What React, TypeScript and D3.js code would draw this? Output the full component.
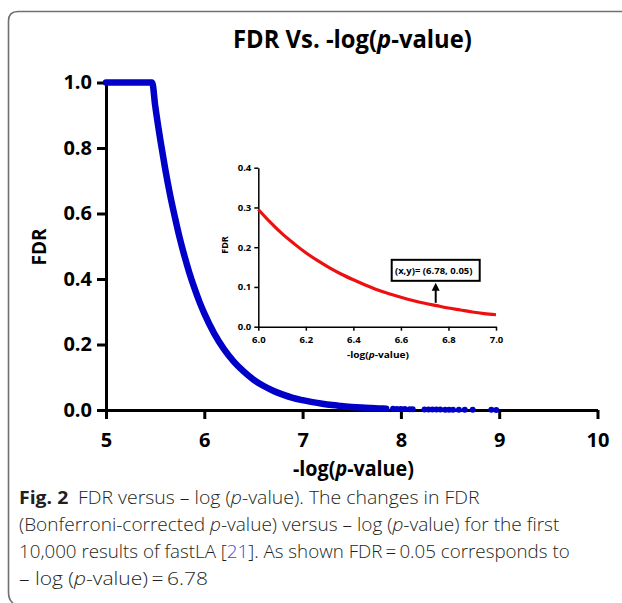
import React, { useEffect, useRef } from "react";
import * as d3 from "d3";

// main curve (-log p, FDR)
const mainX = [5.0, 5.1, 5.2, 5.3, 5.4, 5.47, 5.5, 5.55, 5.6, 5.65, 5.7, 5.75, 5.8, 5.85, 5.9, 5.95, 6.0, 6.1, 6.2, 6.3, 6.4, 6.5, 6.6, 6.7, 6.8, 6.9, 7.0, 7.1, 7.2, 7.3, 7.4, 7.5, 7.6, 7.7, 7.8, 7.85];
const mainFdr = [1, 1, 1, 1, 1, 1, 0.93, 0.83, 0.74, 0.66, 0.59, 0.525, 0.468, 0.417, 0.372, 0.331, 0.295, 0.234, 0.186, 0.148, 0.118, 0.093, 0.074, 0.059, 0.047, 0.037, 0.03, 0.024, 0.019, 0.015, 0.012, 0.0093, 0.0074, 0.0059, 0.0047, 0.0042];

// scattered points in the tail
const tailX = [7.92, 7.96, 8.0, 8.04, 8.09, 8.12, 8.24, 8.28, 8.32, 8.36, 8.4, 8.45, 8.49, 8.53, 8.59, 8.65, 8.73, 8.92, 8.97];
const tailFdr = [0.0037, 0.0034, 0.0031, 0.0029, 0.0026, 0.0024, 0.0018, 0.0016, 0.0015, 0.0014, 0.0012, 0.0011, 0.001, 0.0009, 0.0008, 0.0007, 0.0006, 0.0004, 0.0003];

// inset zoom 6..7
const insetX = [6.0, 6.05, 6.1, 6.15, 6.2, 6.25, 6.3, 6.35, 6.4, 6.45, 6.5, 6.55, 6.6, 6.65, 6.7, 6.75, 6.8, 6.85, 6.9, 6.95, 7.0];
const insetFdr = [0.295, 0.263, 0.234, 0.209, 0.186, 0.166, 0.148, 0.132, 0.118, 0.105, 0.093, 0.083, 0.074, 0.066, 0.059, 0.053, 0.047, 0.042, 0.037, 0.033, 0.03];

const mainXTicks = [5, 6, 7, 8, 9, 10];
const mainYTicks = [0, 0.2, 0.4, 0.6, 0.8, 1.0];
const insetXTicks = [6.0, 6.2, 6.4, 6.6, 6.8, 7.0];
const insetYTicks = [0, 0.1, 0.2, 0.3, 0.4];

const annotX = 6.78;
const annotY = 0.05;

const W = 622;
const H = 603;
const FONT = "'Open Sans', sans-serif";
const BLUE = "#0000c8";
const RED = "#ee1010";

const App = () => {
  const svgRef = useRef<SVGSVGElement>(null);

  useEffect(() => {
    const svg = d3.select(svgRef.current);
    svg.selectAll("*").remove();

    // squeeze a text horizontally so it spans `width` px starting at x
    const fitText = (t, x, y, width) => {
      const len = t.node().getComputedTextLength() || width;
      t.attr("transform", `translate(${x},${y}) scale(${width / len},1)`);
    };

    // frame
    svg.append("path")
      .attr("d", `M${W},11.5 H18 Q8.5,11.5 8.5,21 V592 Q8.5,600 13,603`)
      .attr("fill", "none")
      .attr("stroke", "#707070")
      .attr("stroke-width", 1.6);

    // title
    const title = svg.append("text")
      .style("font-family", FONT)
      .style("font-weight", 700)
      .style("font-size", "25px");
    title.append("tspan").text("FDR Vs. -log(");
    title.append("tspan").style("font-style", "italic").text("p");
    title.append("tspan").text("-value)");
    fitText(title, 233, 48, 239);

    // main chart
    const x = d3.scaleLinear().domain([5, 10]).range([106, 597.5]);
    const y = d3.scaleLinear().domain([0, 1]).range([410, 82.5]);

    const styleAxis = (g, size, width) => {
      g.select(".domain").attr("stroke", "#000").attr("stroke-width", width);
      g.selectAll(".tick line").attr("stroke", "#000").attr("stroke-width", width);
      g.selectAll(".tick text")
        .attr("fill", "#000")
        .style("font-family", FONT)
        .style("font-weight", 700)
        .style("font-size", size);
    };

    svg.append("g")
      .attr("transform", `translate(0,${y(0)})`)
      .call(d3.axisBottom(x).tickValues(mainXTicks).tickFormat(d3.format("d")).tickSize(9).tickSizeOuter(0).tickPadding(14))
      .call(g => styleAxis(g, "20px", 3));

    svg.append("g")
      .attr("transform", `translate(${x(5)},0)`)
      .call(d3.axisLeft(y).tickValues(mainYTicks).tickFormat(d3.format(".1f")).tickSize(9).tickSizeOuter(0).tickPadding(5))
      .call(g => styleAxis(g, "20px", 3));

    const line = d3.line<number>()
      .x((_, i) => x(mainX[i]))
      .y(d => y(d))
      .curve(d3.curveMonotoneX);

    svg.append("path")
      .datum(mainFdr)
      .attr("fill", "none")
      .attr("stroke", BLUE)
      .attr("stroke-width", 6.5)
      .attr("stroke-linejoin", "round")
      .attr("stroke-linecap", "round")
      .attr("d", line);

    svg.append("g")
      .selectAll("circle")
      .data(tailFdr)
      .join("circle")
      .attr("cx", (_, i) => x(tailX[i]))
      .attr("cy", d => y(d))
      .attr("r", 3)
      .attr("fill", BLUE);

    // axis titles
    const xTitle = svg.append("text")
      .style("font-family", FONT)
      .style("font-weight", 700)
      .style("font-size", "21px");
    xTitle.append("tspan").text("-log(");
    xTitle.append("tspan").style("font-style", "italic").text("p");
    xTitle.append("tspan").text("-value)");
    fitText(xTitle, 293, 476, 121);

    svg.append("text")
      .attr("transform", `translate(46,247) rotate(-90)`)
      .attr("text-anchor", "middle")
      .style("font-family", FONT)
      .style("font-weight", 700)
      .style("font-size", "19px")
      .text("FDR");

    // inset
    const ix = d3.scaleLinear().domain([6, 7]).range([258.3, 496]);
    const iy = d3.scaleLinear().domain([0, 0.4]).range([326.7, 167.7]);

    svg.append("g")
      .attr("transform", `translate(0,${iy(0)})`)
      .call(d3.axisBottom(ix).tickValues(insetXTicks).tickFormat(d3.format(".1f")).tickSize(4).tickSizeOuter(0).tickPadding(6))
      .call(g => styleAxis(g, "9.5px", 1.5));

    svg.append("g")
      .attr("transform", `translate(${ix(6)},0)`)
      .call(d3.axisLeft(iy).tickValues(insetYTicks).tickFormat(d3.format(".1f")).tickSize(4).tickSizeOuter(0).tickPadding(3))
      .call(g => styleAxis(g, "9.5px", 1.5));

    const iline = d3.line<number>()
      .x((_, i) => ix(insetX[i]))
      .y(d => iy(d))
      .curve(d3.curveMonotoneX);

    svg.append("path")
      .datum(insetFdr)
      .attr("fill", "none")
      .attr("stroke", RED)
      .attr("stroke-width", 3.2)
      .attr("d", iline);

    const ixTitle = svg.append("text")
      .style("font-family", FONT)
      .style("font-weight", 700)
      .style("font-size", "9px");
    ixTitle.append("tspan").text("-log(");
    ixTitle.append("tspan").style("font-style", "italic").text("p");
    ixTitle.append("tspan").text("-value)");
    fitText(ixTitle, 347, 358, 62);

    svg.append("text")
      .attr("transform", `translate(228,245) rotate(-90)`)
      .attr("text-anchor", "middle")
      .style("font-family", FONT)
      .style("font-weight", 700)
      .style("font-size", "9px")
      .text("FDR");

    // annotation box + arrow
    const ax = ix(annotX) - 8;
    const boxTop = iy(annotY) - 47;
    svg.append("rect")
      .attr("x", ax - 44)
      .attr("y", boxTop)
      .attr("width", 88)
      .attr("height", 21)
      .attr("fill", "#fff")
      .attr("stroke", "#000")
      .attr("stroke-width", 2);
    svg.append("text")
      .attr("x", ax - 2)
      .attr("y", boxTop + 14.5)
      .attr("text-anchor", "middle")
      .style("font-family", FONT)
      .style("font-weight", 700)
      .style("font-size", "9.5px")
      .text("(x,y)= (6.78, 0.05)");
    const arrowBottom = iy(annotY) - 4;
    svg.append("line")
      .attr("x1", ax)
      .attr("x2", ax)
      .attr("y1", arrowBottom)
      .attr("y2", boxTop + 30)
      .attr("stroke", "#000")
      .attr("stroke-width", 2);
    svg.append("path")
      .attr("d", `M${ax - 4},${boxTop + 31} L${ax},${boxTop + 23} L${ax + 4},${boxTop + 31} Z`)
      .attr("fill", "#000");

    // caption
    const cap = svg.append("g")
      .style("font-family", FONT)
      .style("font-size", "18px")
      .style("font-weight", 300)
      .attr("fill", "#231f20");

    const l1 = cap.append("text");
    l1.append("tspan").style("font-weight", 700).text("Fig. 2");
    l1.append("tspan").text("\u2002FDR versus \u2013 log (");
    l1.append("tspan").style("font-style", "italic").text("p");
    l1.append("tspan").text("-value). The changes in FDR");
    fitText(l1, 19, 504, 461);

    const l2 = cap.append("text");
    l2.append("tspan").text("(Bonferroni-corrected ");
    l2.append("tspan").style("font-style", "italic").text("p");
    l2.append("tspan").text("-value) versus \u2013 log (");
    l2.append("tspan").style("font-style", "italic").text("p");
    l2.append("tspan").text("-value) for the first");
    fitText(l2, 19, 531, 541);

    const l3 = cap.append("text");
    l3.append("tspan").text("10,000 results of fastLA [");
    l3.append("tspan").attr("fill", "#2a4ce0").text("21");
    l3.append("tspan").text("]. As shown FDR\u2009=\u20090.05 corresponds to");
    fitText(l3, 19, 558, 551);

    const l4 = cap.append("text");
    l4.append("tspan").text("\u2013 log (");
    l4.append("tspan").style("font-style", "italic").text("p");
    l4.append("tspan").text("-value)\u2009=\u20096.78");
    fitText(l4, 19, 585, 189);
  }, []);

  return (
    <svg ref={svgRef} width={W} height={H} style={{ position: "absolute", left: 0, top: 0, background: "#fff" }} />
  );
};

export default App;
